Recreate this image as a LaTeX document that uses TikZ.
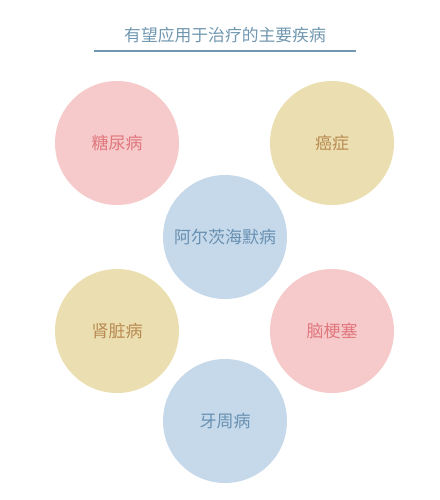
\documentclass[tikz,border=0pt]{standalone}
\usepackage{fontspec}
\newfontfamily\cjk{Noto Sans CJK SC}
\definecolor{pinkfill}{HTML}{F6CACA}
\definecolor{pinktext}{HTML}{E0787E}
\definecolor{sandfill}{HTML}{EBDFB1}
\definecolor{sandtext}{HTML}{B98A52}
\definecolor{bluefill}{HTML}{C6D9EA}
\definecolor{bluetext}{HTML}{6890B2}
\definecolor{titleblue}{HTML}{7097B0}
\begin{document}
\begin{tikzpicture}[x=1pt,y=-1pt,
  disease/.style={circle,minimum size=124pt,inner sep=0pt,font=\cjk\fontsize{17}{19}\selectfont},
  pinkdot/.style={disease,fill=pinkfill,text=pinktext},
  sanddot/.style={disease,fill=sandfill,text=sandtext},
  bluedot/.style={disease,fill=bluefill,text=bluetext}]
\useasboundingbox (0,0) rectangle (439,500);

% Title
\node[font=\cjk\fontsize{16.8}{19}\selectfont,text=titleblue] (title) at (225,35.5) {有望应用于治疗的主要疾病};
\draw[titleblue,line width=2pt] (94,51.5) -- (356,51.5);

% Disease circles
\node[pinkdot] (diabetes) at (117,143) {糖尿病};
\node[sanddot] (cancer) at (332,143) {癌症};
\node[bluedot] (alzheimer) at (225,237) {阿尔茨海默病};
\node[sanddot] (kidney) at (117,331) {肾脏病};
\node[pinkdot] (infarct) at (332,331) {脑梗塞};
\node[bluedot] (periodontal) at (225,421) {牙周病};
\end{tikzpicture}
\end{document}
